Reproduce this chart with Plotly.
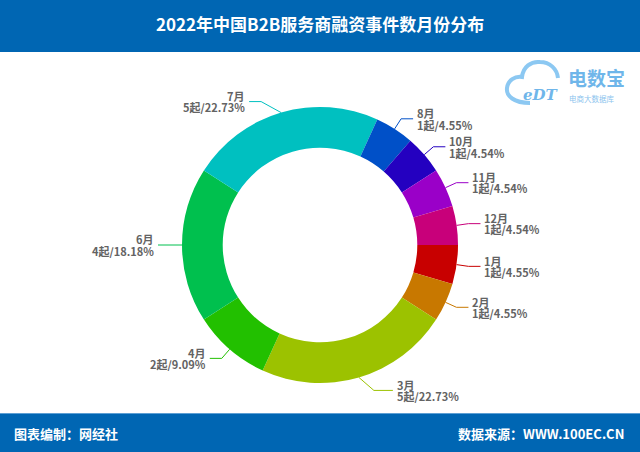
import math
import plotly.graph_objects as go

# ---------------- data ----------------
months = ["1月", "2月", "3月", "4月", "6月", "7月", "8月", "10月", "11月", "12月"]
counts = [1, 1, 5, 2, 4, 5, 1, 1, 1, 1]
pct_labels = ["4.55%", "4.55%", "22.73%", "9.09%", "18.18%", "22.73%",
              "4.55%", "4.54%", "4.54%", "4.54%"]
colors = ["#c80000", "#c87800", "#9cc200", "#22c000", "#00c04e", "#00c0c0",
          "#0050c8", "#2400c0", "#9a00c8", "#c8007a"]

title_text = "2022年中国B2B服务商融资事件数月份分布"
footer_left = "图表编制：网经社"
footer_right = "数据来源：WWW.100EC.CN"

# ---------------- geometry ----------------
W, H = 640, 452
cx, cy = 320, 245
R = 138
HOLE = 0.705
START = 90  # degrees clockwise from 12 o'clock

def px(x):
    return x / W

def py(y):
    return 1 - y / H

CJK = "Noto Sans CJK SC, Microsoft YaHei, sans-serif"

fig = go.Figure()
fig.add_trace(go.Pie(
    labels=months, values=counts, sort=False, direction="clockwise",
    rotation=START, hole=HOLE,
    marker=dict(colors=colors, line=dict(width=0)),
    textinfo="none", hoverinfo="label+value+percent",
    domain=dict(x=[px(cx - R), px(cx + R)], y=[py(cy + R), py(cy - R)]),
    showlegend=False,
))

shapes = []
annotations = []

# header & footer bars
shapes.append(dict(type="rect", xref="paper", yref="paper", x0=0, x1=1,
                   y0=py(52), y1=1, fillcolor="#0066b3", line=dict(width=0), layer="below"))
shapes.append(dict(type="rect", xref="paper", yref="paper", x0=0, x1=1,
                   y0=0, y1=py(414), fillcolor="#0066b3", line=dict(width=0), layer="below"))
shapes.append(dict(type="line", xref="paper", yref="paper", x0=0, x1=1,
                   y0=py(413.5), y1=py(413.5), line=dict(color="#5d9fd4", width=1)))

annotations.append(dict(text="<b>" + title_text + "</b>", x=0.5, y=py(23), xref="paper", yref="paper",
                        showarrow=False, font=dict(family=CJK, size=17, color="white"),
                        xanchor="center", yanchor="middle"))
annotations.append(dict(text="<b>" + footer_left + "</b>", x=px(12), y=py(433), xref="paper", yref="paper",
                        showarrow=False, font=dict(family=CJK, size=13, color="white"),
                        xanchor="left", yanchor="middle"))
annotations.append(dict(text="<b>" + footer_right + "</b>", x=px(626), y=py(433), xref="paper", yref="paper",
                        showarrow=False, font=dict(family=CJK, size=13, color="white"),
                        xanchor="right", yanchor="middle"))

# leader lines and labels (positions derived from slice angles)
elbow_override = {"3月": (15, 13), "7月": (-20, -11)}
seg2_override = {"3月": 19}
LINE_GAP = 11.5
total = sum(counts)
acc = 0.0
for m, c, p, col in zip(months, counts, pct_labels, colors):
    a0 = START + 360 * acc / total
    acc += c
    a1 = START + 360 * acc / total
    th = math.radians((a0 + a1) / 2)
    s, co = math.sin(th), math.cos(th)
    x0, y0 = cx + R * s, cy - R * co
    if m in elbow_override:
        dx, dy = elbow_override[m]
        x1, y1 = x0 + dx, y0 + dy
    else:
        x1, y1 = cx + (R + 12) * s, cy - (R + 12) * co
    side = 1 if s >= 0 else -1
    x2 = x1 + side * seg2_override.get(m, 12)
    path = f"M {px(x0)},{py(y0)} L {px(x1)},{py(y1)} L {px(x2)},{py(y1)}"
    shapes.append(dict(type="path", xref="paper", yref="paper", path=path,
                       line=dict(color=col, width=1)))
    for k, t in enumerate([m, f"{c}起/{p}"]):
        annotations.append(dict(
            text=f"<b>{t}</b>", x=px(x2 + side * 2),
            y=py(y1 + (k - 0.5) * LINE_GAP),
            xref="paper", yref="paper", showarrow=False,
            xanchor="left" if side > 0 else "right", yanchor="middle",
            font=dict(family=CJK, size=11, color="#636363"),
        ))

# logo (电数宝)
cloud = ("M 530,103 C 514,103 506,96 507,88 C 508,80 515,76 522,77 "
         "C 523,67 531,61 540,62 C 550,62 557,69 558,78")
conv = []
for t in cloud.split():
    if "," in t:
        a, b = t.split(",")
        conv.append(f"{px(float(a))},{py(float(b))}")
    else:
        conv.append(t)
shapes.append(dict(type="path", xref="paper", yref="paper", path=" ".join(conv),
                   line=dict(color="#8cc8f2", width=4)))
annotations.append(dict(text="<i><b>eDT</b></i>", x=px(541), y=py(95), xref="paper", yref="paper",
                        showarrow=False, font=dict(family="DejaVu Serif", size=15, color="#6fb6ea"),
                        xanchor="center", yanchor="middle"))
annotations.append(dict(text="<b>电数宝</b>", x=px(566), y=py(78), xref="paper", yref="paper",
                        showarrow=False, font=dict(family=CJK, size=19, color="#6fb6ea"),
                        xanchor="left", yanchor="middle"))
annotations.append(dict(text="电商大数据库", x=px(567), y=py(98.5), xref="paper", yref="paper",
                        showarrow=False, font=dict(family=CJK, size=7.5, color="#8cc4ee"),
                        xanchor="left", yanchor="middle"))

fig.update_layout(
    width=W, height=H, margin=dict(l=0, r=0, t=0, b=0),
    paper_bgcolor="white", plot_bgcolor="white",
    shapes=shapes, annotations=annotations,
)

fig.write_html("out.html", config={"displayModeBar": False},
               post_script="document.body.style.margin='0';document.body.style.overflow='hidden';")
